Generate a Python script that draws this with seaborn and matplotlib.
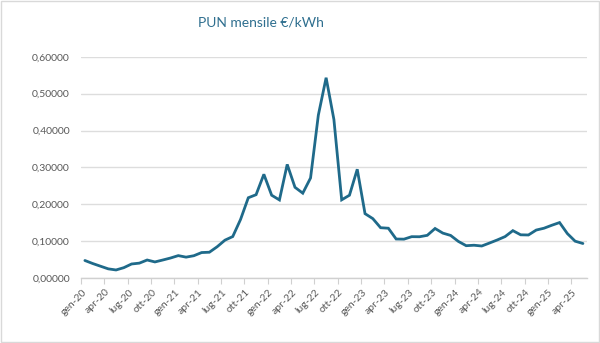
import matplotlib
matplotlib.use("Agg")
import matplotlib.pyplot as plt
from matplotlib.ticker import FuncFormatter, FixedLocator
import seaborn as sns
import pandas as pd

# Monthly PUN (€/kWh), January 2020 - May 2025
pun_2020 = [0.04747, 0.03930, 0.03202, 0.02481, 0.02179, 0.02801,
            0.03801, 0.04032, 0.04880, 0.04357, 0.04875, 0.05417]
pun_2021 = [0.06071, 0.05657, 0.06042, 0.06902, 0.06991, 0.08480,
            0.10265, 0.11240, 0.15859, 0.21763, 0.22595, 0.28124]
pun_2022 = [0.22450, 0.21169, 0.30807, 0.24597, 0.23006, 0.27131,
            0.44165, 0.54315, 0.42992, 0.21199, 0.22451, 0.29491]
pun_2023 = [0.17449, 0.16107, 0.13638, 0.13497, 0.10573, 0.10534,
            0.11209, 0.11189, 0.11571, 0.13428, 0.12174, 0.11547]
pun_2024 = [0.09916, 0.08763, 0.08886, 0.08680, 0.09488, 0.10323,
            0.11232, 0.12844, 0.11714, 0.11667, 0.13004, 0.13502]
pun_2025 = [0.14303, 0.15036, 0.12055, 0.09985, 0.09358]

mesi = ["gen", "feb", "mar", "apr", "mag", "giu",
        "lug", "ago", "set", "ott", "nov", "dic"]
anni = ["20", "21", "22", "23", "24", "25"]
y_ticks = [0.0, 0.1, 0.2, 0.3, 0.4, 0.5, 0.6]

values = pun_2020 + pun_2021 + pun_2022 + pun_2023 + pun_2024 + pun_2025
labels = [f"{m}-{a}" for a in anni for m in mesi][:len(values)]
df = pd.DataFrame({"pos": range(len(values)), "mese": labels, "pun": values})

sns.set_style("white")
plt.rcParams["font.family"] = ["Lato", "DejaVu Sans"]

fig = plt.figure(figsize=(6.0, 3.43), dpi=100)
fig.patch.set_facecolor("white")
ax = fig.add_axes([0.135, 0.1895, 0.843, 0.645])

line_color = "#1F6A8A"
sns.lineplot(data=df, x="pos", y="pun", ax=ax, color=line_color,
             linewidth=2.0, solid_joinstyle="miter")

ax.set_xlim(-0.5, len(values) - 0.5)
ax.set_ylim(0, 0.6)
ax.set_yticks(y_ticks)
ax.yaxis.set_major_formatter(
    FuncFormatter(lambda v, _: f"{v:.5f}".replace(".", ",")))
ax.grid(axis="y", color="#DDDDDD", linewidth=1.0)
ax.set_axisbelow(True)

# category labels every quarter, tick marks between categories
label_pos = list(range(0, len(values), 3))
ax.xaxis.set_major_locator(FixedLocator(label_pos))
ax.set_xticklabels([labels[i] for i in label_pos], rotation=45,
                   ha="right", va="center", rotation_mode="anchor")
ax.xaxis.set_minor_locator(FixedLocator([p - 0.5 for p in label_pos]))
ax.tick_params(axis="x", which="major", length=0, pad=9,
               labelsize=7.5, labelcolor="#595959")
ax.tick_params(axis="x", which="minor", length=4, width=0.8,
               color="#D0D0D0", direction="out", bottom=True)
ax.tick_params(axis="y", length=0, pad=8, labelsize=7.5,
               labelcolor="#595959")

for side in ["top", "right", "left"]:
    ax.spines[side].set_visible(False)
ax.spines["bottom"].set_color("#D0D0D0")
ax.spines["bottom"].set_linewidth(1.0)

ax.set_xlabel("")
ax.set_ylabel("")

fig.text(0.435, 0.935, "PUN mensile €/kWh", ha="center", va="center",
         fontsize=10, color="#2F6F8F")

# light chart-area frame
frame = plt.Rectangle((0.001, 0.002), 0.997, 0.995, transform=fig.transFigure,
                      fill=False, edgecolor="#D9D9D9", linewidth=1.0)
fig.patches.append(frame)

fig.savefig("out.png", dpi=100, facecolor="white")
